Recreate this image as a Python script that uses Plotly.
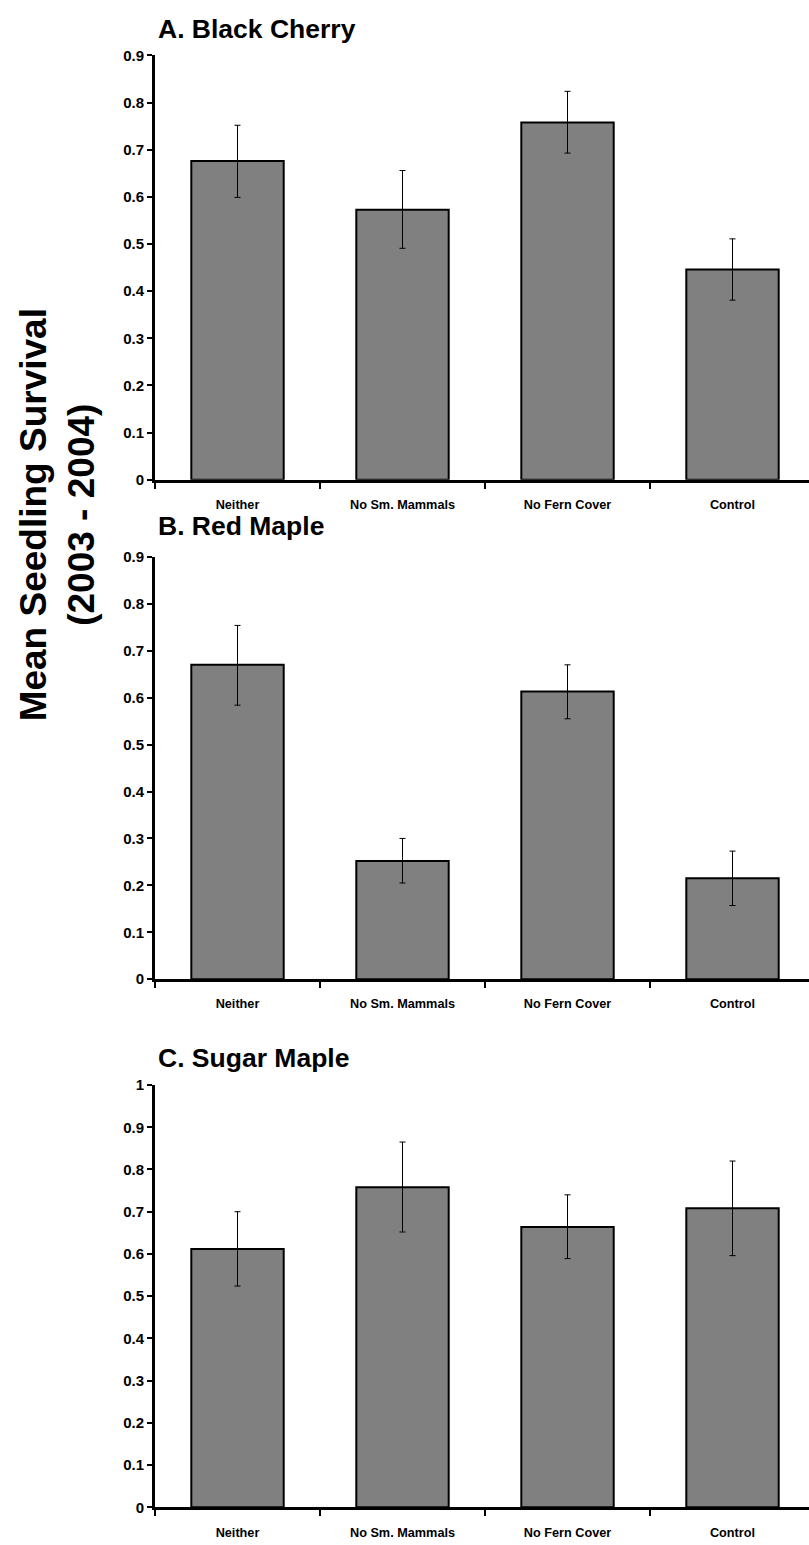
import plotly.graph_objects as go

W, H = 809, 1545

categories = ["Neither", "No Sm. Mammals", "No Fern Cover", "Control"]

titles = ["A. Black Cherry", "B. Red Maple", "C. Sugar Maple"]

cherry_mean = [0.676, 0.573, 0.758, 0.446]
cherry_up = [0.076, 0.083, 0.066, 0.065]
cherry_dn = [0.077, 0.082, 0.065, 0.065]

red_mean = [0.670, 0.252, 0.613, 0.215]
red_up = [0.084, 0.048, 0.057, 0.058]
red_dn = [0.086, 0.047, 0.058, 0.058]

sugar_mean = [0.612, 0.758, 0.664, 0.708]
sugar_up = [0.088, 0.107, 0.076, 0.112]
sugar_dn = [0.088, 0.106, 0.075, 0.112]

y_max = [0.9, 0.9, 1.0]
y_ticks = [[0, 0.1, 0.2, 0.3, 0.4, 0.5, 0.6, 0.7, 0.8, 0.9],
           [0, 0.1, 0.2, 0.3, 0.4, 0.5, 0.6, 0.7, 0.8, 0.9],
           [0, 0.1, 0.2, 0.3, 0.4, 0.5, 0.6, 0.7, 0.8, 0.9, 1]]

y_label = "Mean Seedling Survival<br>(2003 - 2004)"

series = [(cherry_mean, cherry_up, cherry_dn),
          (red_mean, red_up, red_dn),
          (sugar_mean, sugar_up, sugar_dn)]

# pixel layout (top of axis, bottom of axis)
panel_px = [(47, 476), (554, 981), (1088, 1515)]
title_px = [20, 523, 1061]
x_left_px = 155
cat_px = 165.0

FONT = "Liberation Sans, Arial, Helvetica, sans-serif"

fig = go.Figure()

x_hi = -0.5 + (W - x_left_px) / cat_px

for i, (m, up, dn) in enumerate(series):
    ax = "" if i == 0 else str(i + 1)
    fig.add_trace(go.Bar(
        x=categories, y=m,
        xaxis="x" + ax, yaxis="y" + ax,
        width=0.56,
        marker=dict(color="#808080", line=dict(color="black", width=2)),
        error_y=dict(type="data", symmetric=False, array=up, arrayminus=dn,
                     color="black", thickness=1, width=3),
        showlegend=False,
        hoverinfo="skip",
    ))
    top, bot = panel_px[i]
    fig.update_layout(**{
        "xaxis" + ax: dict(
            domain=[x_left_px / W, 1],
            anchor="y" + ax,
            type="category",
            range=[-0.5, x_hi],
            showline=True, linecolor="black", linewidth=3,
            ticks="outside", tickson="boundaries", ticklen=6, tickwidth=2,
            tickcolor="black",
            tickfont=dict(family=FONT, size=12.7, color="black", weight="bold"),
            ticklabelstandoff=11,
            showgrid=False, zeroline=False, fixedrange=True,
        ),
        "yaxis" + ax: dict(
            domain=[1 - bot / H, 1 - top / H],
            anchor="x" + ax,
            range=[0, y_max[i]],
            tickvals=y_ticks[i],
            showline=True, linecolor="black", linewidth=3,
            ticks="outside", ticklen=5, tickwidth=2, tickcolor="black",
            tickfont=dict(family=FONT, size=15, color="black", weight="bold"),
            showgrid=False, zeroline=False, fixedrange=True,
        ),
    })
    fig.add_annotation(
        text="<b>" + titles[i] + "</b>",
        xref="paper", yref="paper",
        x=(x_left_px + 1) / W, y=1 - title_px[i] / H,
        xanchor="left", yanchor="middle",
        showarrow=False,
        font=dict(family=FONT, size=26.5, color="black"),
    )

fig.add_annotation(
    text="<b>" + y_label + "</b>",
    xref="paper", yref="paper",
    x=57 / W, y=1 - 512 / H,
    xanchor="center", yanchor="middle",
    textangle=-90,
    showarrow=False,
    font=dict(family=FONT, size=37, color="black"),
)

fig.update_layout(
    width=W, height=H,
    margin=dict(l=0, r=0, t=0, b=0),
    paper_bgcolor="white", plot_bgcolor="white",
    bargap=0.44,
)

fig.write_html("out.html",
               config={"displayModeBar": False, "staticPlot": True},
               post_script="document.body.style.margin='0';document.body.style.overflow='hidden';")
